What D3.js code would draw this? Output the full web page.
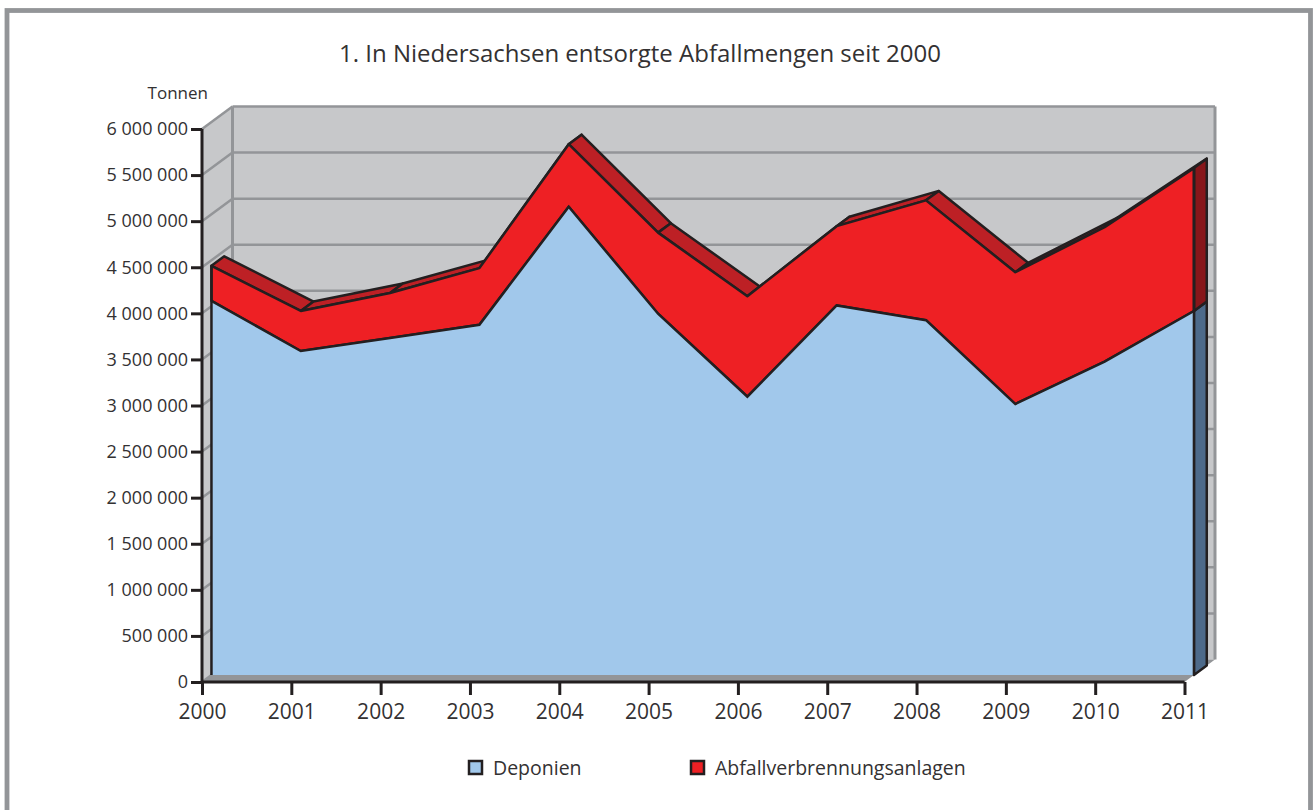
<!DOCTYPE html>
<html><head><meta charset="utf-8">
<script src="https://cdn.jsdelivr.net/npm/d3@7"></script>
<style>html,body{margin:0;background:#fff}svg{display:block}text{font-family:"Open Sans",sans-serif;fill:#333132}</style>
</head><body><svg id="c" width="1315" height="810"></svg>
<script>
const years = [2000,2001,2002,2003,2004,2005,2006,2007,2008,2009,2010,2011];
const deponien = [4060000,3515000,3656000,3800000,5080000,3920000,3020000,4010000,3850000,2940000,3400000,3950000];
const verbrennung = [380000,435000,489000,615000,680000,880000,1090000,860000,1300000,1430000,1460000,1550000];
const yTicks = [0,500000,1000000,1500000,2000000,2500000,3000000,3500000,4000000,4500000,5000000,5500000,6000000];
const title = "1. In Niedersachsen entsorgte Abfallmengen seit 2000";
const yUnit = "Tonnen";
const legendNames = ["Deponien","Abfallverbrennungsanlagen"];

const svg = d3.select("#c");
const x = d3.scaleLinear().domain([2000,2011]).range([202,1184.5]);
const y = d3.scaleLinear().domain([0,6000000]).range([682,129]);
const DX = 30.5, DY = 22.5, D_FRONT = 0.31, D_BACK = 0.73;
const P = (yr,v,d) => [x(yr)+DX*d, y(v)-DY*d];
const poly = (pts,fill,stroke,sw) => svg.append("path").attr("d",d3.line()(pts)+"Z")
  .attr("fill",fill).attr("stroke",stroke||"none").attr("stroke-width",sw||0).attr("stroke-linejoin","round");
const seg = (a,b,stroke,sw) => svg.append("path").attr("d",d3.line()([a,b])).attr("fill","none").attr("stroke",stroke).attr("stroke-width",sw);

const WALL="#c7c8ca", GRID="#939598", INK="#231f20", BLUE="#a1c8eb", RED="#ee2024", DRED="#bd2025", DDRED="#87161a", DBLUE="#4d6a8a";
const [x0,x1]=x.domain(), [v0,v1]=[0,6000000];

// outer frame
svg.append("rect").attr("x",7).attr("y",10.5).attr("width",1303.5).attr("height",820).attr("fill","none").attr("stroke",GRID).attr("stroke-width",4.8);

// walls and floor
poly([P(x0,v0,0),P(x0,v1,0),P(x0,v1,1),P(x0,v0,1)],WALL);
poly([P(x0,v0,1),P(x0,v1,1),P(x1,v1,1),P(x1,v0,1)],WALL);
poly([P(x0,v0,0),P(x0,v0,1),P(x1,v0,1),P(x1,v0,0)],GRID);
yTicks.forEach(t=>{
  seg(P(x0,t,0),P(x0,t,1),GRID,2.5);
  if(t>0) seg(P(x0,t,1),P(x1,t,1),GRID,2.5);
});
seg(P(x0,v0,1),P(x0,v1,1),GRID,3);
seg(P(x1,v0,1),P(x1,v1,1),GRID,3);

// stacked series on their 3D slab
const total = deponien.map((d,i)=>d+verbrennung[i]);
const last = years.length-1;
// slab top surface
d3.pairs(d3.range(years.length)).forEach(([a,b])=>{
  poly([P(years[a],total[a],D_FRONT),P(years[b],total[b],D_FRONT),P(years[b],total[b],D_BACK),P(years[a],total[a],D_BACK)],DRED,INK,2.5);
});
// slab right end
poly([P(x1,0,D_FRONT),P(x1,deponien[last],D_FRONT),P(x1,deponien[last],D_BACK),P(x1,0,D_BACK)],DBLUE,INK,2.5);
poly([P(x1,deponien[last],D_FRONT),P(x1,total[last],D_FRONT),P(x1,total[last],D_BACK),P(x1,deponien[last],D_BACK)],DDRED,INK,2.5);
// front faces
const blueTop = years.map((yr,i)=>P(yr,deponien[i],D_FRONT));
const redTop = years.map((yr,i)=>P(yr,total[i],D_FRONT));
poly([...redTop,...blueTop.slice().reverse()],RED,INK,2.5);
poly([P(x0,0,D_FRONT),...blueTop,P(x1,0,D_FRONT)],BLUE);
svg.append("path").attr("d",d3.line()(blueTop)).attr("fill","none").attr("stroke",INK).attr("stroke-width",2.5);
seg(P(x0,0,D_FRONT),P(x0,total[0],D_FRONT),INK,2.5);
seg(P(x1,0,D_FRONT),P(x1,total[last],D_FRONT),INK,2.5);

// axes
const yAxis = d3.axisLeft(y).tickValues(yTicks).tickSize(13).tickPadding(4).tickFormat(d=>d3.format(",")(d).replace(/,/g," "));
const xAxis = d3.axisBottom(x).tickValues(years).tickSize(13).tickPadding(4).tickFormat(d3.format("d"));
const gy = svg.append("g").attr("transform","translate(202,0)").call(yAxis);
const gx = svg.append("g").attr("transform","translate(0,682)").call(xAxis);
[gy,gx].forEach(g=>{
  g.selectAll("path.domain").attr("stroke",INK).attr("stroke-width",3).attr("d",g===gy?"M0,129V682":"M202,0H1184.5");
  g.selectAll("line").attr("stroke",INK).attr("stroke-width",3);
  g.selectAll("text").style("font-family",'"Open Sans",sans-serif').attr("fill","#333132");
});
gy.selectAll("line").attr("x2",-11);
gy.selectAll("text").attr("x",-14).attr("font-size",18);
gx.selectAll("text").attr("font-size",21).attr("y",22);

// titles
svg.append("text").attr("x",640).attr("y",62).attr("text-anchor","middle").attr("font-size",24).text(title);
svg.append("text").attr("x",208).attr("y",99).attr("text-anchor","end").attr("font-size",17).text(yUnit);

// legend
[[475,BLUE],[697,RED]].forEach((l,i)=>{
  svg.append("rect").attr("x",l[0]-6).attr("y",761).attr("width",13).attr("height",13).attr("fill",l[1]).attr("stroke",INK).attr("stroke-width",2.5);
  svg.append("text").attr("x",i?715:493).attr("y",775).attr("font-size",19.5).text(legendNames[i]);
});
</script></body></html>
